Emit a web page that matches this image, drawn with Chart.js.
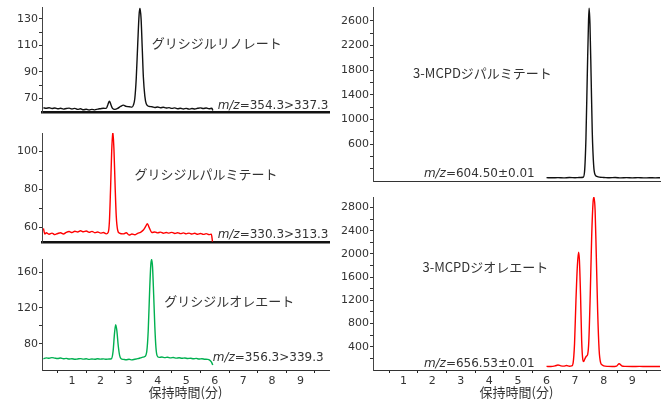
<!DOCTYPE html>
<html>
<head>
<meta charset="utf-8">
<script src="https://cdn.jsdelivr.net/npm/chart.js@4"></script>
<style>
  body { margin: 0; background: #fff; }
  #wrap { position: relative; width: 670px; height: 400px; overflow: hidden; }
  canvas { position: absolute; }
</style>
</head>
<body>
<div id="wrap">
  <canvas id="c1" width="340" height="120" style="left:0;top:0"></canvas>
  <canvas id="c2" width="340" height="130" style="left:0;top:120px"></canvas>
  <canvas id="c3" width="340" height="150" style="left:0;top:250px"></canvas>
  <canvas id="c4" width="340" height="190" style="left:330px;top:0"></canvas>
  <canvas id="c5" width="340" height="215" style="left:330px;top:185px"></canvas>
</div>
<script>
// グリシジルリノレート (m/z 354.3>337.3)
const tLin = [0, 0.1, 0.2, 0.3, 0.4, 0.5, 0.6, 0.7, 0.8, 0.9, 1.0, 1.1, 1.2, 1.3, 1.4, 1.5, 1.6, 1.7, 1.8, 1.9, 2.0, 2.1,
  2.2, 2.26, 2.31, 2.36, 2.42, 2.5, 2.6, 2.7, 2.8, 2.9, 3.0, 3.1, 3.15, 3.2, 3.25, 3.3, 3.35, 3.38, 3.42, 3.46, 3.5, 3.55, 3.6, 3.7,
  3.8, 3.9, 4.0, 4.1, 4.2, 4.3, 4.4, 4.5, 4.6, 4.7, 4.8, 4.9, 5.0, 5.1, 5.2, 5.3, 5.4, 5.5, 5.6, 5.7, 5.8, 5.9, 5.93];
const vLin = [63, 62.6, 63, 62.4, 62.8, 62.2, 62.6, 62, 62.4, 62.7, 62.1, 62.5, 61.8, 62.2, 61.5, 61.9, 61.3, 61.8, 61.4, 62, 62.3, 62.6,
  62.5, 65.5, 68, 65.5, 62.5, 61.8, 62.5, 64, 65, 64, 63.8, 63.5, 65, 70, 85, 110, 133, 138, 130, 108, 86, 72, 66, 64,
  63.8, 63.2, 63.6, 63, 63.4, 62.8, 63.1, 62.5, 62.9, 62.3, 62.6, 62.1, 62.5, 62, 62.4, 62.1, 62.6, 62.9, 62.4, 62.8, 62.3, 62.6, 61];

// グリシジルパルミテート (m/z 330.3>313.3)
const tPal = [0, 0.05, 0.1, 0.2, 0.3, 0.4, 0.5, 0.6, 0.7, 0.8, 0.9, 1.0, 1.1, 1.2, 1.3, 1.4, 1.5, 1.6, 1.7, 1.8, 1.9, 2.0, 2.1,
  2.2, 2.27, 2.31, 2.35, 2.39, 2.43, 2.47, 2.51, 2.55, 2.6, 2.66, 2.8, 2.9, 3.0, 3.1, 3.2, 3.3, 3.4, 3.5, 3.58, 3.64, 3.7, 3.8,
  3.9, 4.0, 4.1, 4.2, 4.3, 4.4, 4.5, 4.6, 4.7, 4.8, 4.9, 5.0, 5.1, 5.2, 5.3, 5.4, 5.5, 5.6, 5.7, 5.8, 5.88, 5.92];
const vPal = [59.5, 56.5, 57.2, 56.4, 57, 56.2, 56.8, 57.2, 56.5, 57.4, 57.8, 57.3, 58, 57.6, 58.2, 57.7, 58.1, 57.4, 57.9, 57.2, 57.6, 57, 57.3,
  56.6, 57.5, 63, 80, 100, 110, 101, 82, 66, 58.5, 57, 56.6, 57.2, 56, 56.5, 56.1, 56.9, 57.4, 58.6, 60.5, 62, 60, 57.3,
  57.6, 57.1, 57.5, 56.9, 57.3, 57, 57.4, 56.8, 57.2, 56.7, 57.1, 56.6, 57, 56.5, 56.9, 56.4, 56.8, 56.3, 56.7, 56.2, 56.4, 52.5];

// グリシジルオレエート (m/z 356.3>339.3)
const tOle = [0, 0.1, 0.2, 0.3, 0.4, 0.5, 0.6, 0.7, 0.8, 0.9, 1.0, 1.1, 1.2, 1.3, 1.4, 1.5, 1.6, 1.7, 1.8, 1.9, 2.0, 2.1, 2.2, 2.3,
  2.38, 2.44, 2.49, 2.53, 2.57, 2.62, 2.67, 2.72, 2.8, 2.9, 3.0, 3.1, 3.2, 3.3, 3.4, 3.48, 3.55, 3.62, 3.67, 3.72, 3.76, 3.79, 3.82, 3.86,
  3.9, 3.94, 3.98, 4.05, 4.15, 4.25, 4.35, 4.45, 4.55, 4.65, 4.75, 4.85, 4.95, 5.05, 5.15, 5.25, 5.35, 5.45, 5.55, 5.65, 5.75, 5.82, 5.88, 5.93];
const vOle = [63.5, 64.5, 64, 64.8, 64.2, 63.8, 64.3, 63.5, 63.9, 63.2, 63.6, 62.9, 63.3, 63.7, 63.1, 63.5, 62.8, 63.3, 63, 63.5, 63.1, 63.4, 62.9, 63.2,
  63.5, 72, 92, 101.5, 95, 78, 67, 63.5, 62.8, 62.4, 62.9, 62.3, 63, 63.6, 64.5, 65.3, 66, 72, 95, 140, 168, 174, 166, 135,
  100, 76, 67, 65, 65.4, 64.8, 65.2, 64.5, 64.9, 64.2, 64.6, 64, 64.4, 63.8, 64.1, 63.5, 63.9, 63.2, 63.6, 63, 62.8, 62, 60, 56.6];

// 3-MCPDジパルミテート (m/z 604.50±0.01)
const tDiPal = [6.0, 6.2, 6.4, 6.6, 6.8, 7.0, 7.1, 7.2, 7.28, 7.33, 7.38, 7.43, 7.47, 7.49, 7.52, 7.56, 7.6, 7.65, 7.7, 7.76, 7.85,
  8.0, 8.2, 8.4, 8.6, 8.8, 9.0, 9.2, 9.4, 9.6, 9.8, 9.97];
const vDiPal = [55, 52, 55, 50, 56, 53, 55, 57, 60, 150, 700, 1800, 2600, 2810, 2550, 1700, 800, 250, 100, 75, 62,
  58, 52, 56, 50, 55, 51, 54, 50, 53, 51, 52];

// 3-MCPDジオレエート (m/z 656.53±0.01)
const tDiOle = [6.0, 6.15, 6.3, 6.4, 6.5, 6.6, 6.7, 6.8, 6.88, 6.93, 6.98, 7.03, 7.08, 7.12, 7.15, 7.19, 7.23, 7.27, 7.3, 7.34, 7.4,
  7.44, 7.48, 7.53, 7.58, 7.63, 7.66, 7.7, 7.74, 7.79, 7.84, 7.89, 7.94, 8.0, 8.15, 8.3, 8.45, 8.54, 8.63, 8.75, 9.0, 9.25, 9.5, 9.75, 9.97];
const vDiOle = [62, 60, 70, 86, 72, 66, 78, 64, 70, 120, 450, 1200, 1800, 2030, 1900, 1300, 500, 180, 145, 190, 240,
  270, 500, 1300, 2300, 2900, 2980, 2750, 2000, 1000, 350, 130, 90, 70, 62, 60, 68, 108, 72, 62, 60, 62, 60, 61, 60];

// tick labels
const xLabels = [1, 2, 3, 4, 5, 6, 7, 8, 9];
const xTickMarks = [0.5, 1.5, 2.5, 3.5, 4.5, 5.5, 6.5, 7.5, 8.5, 9.5];
const yLin = [70, 90, 110, 130], yLinMinor = [80, 100, 120];
const yPal = [60, 80, 100], yPalMinor = [70, 90];
const yOle = [80, 120, 160], yOleMinor = [100, 140];
const yDiPal = [600, 1000, 1400, 1800, 2200, 2600], yDiPalMinor = [200, 400, 800, 1200, 1600, 2000, 2400];
const yDiOle = [400, 800, 1200, 1600, 2000, 2400, 2800], yDiOleMinor = [200, 600, 1000, 1400, 1800, 2200, 2600];

const textColor = "#333";
const tickFont = { family: "DejaVu Sans", size: 11 };

// compound name and m/z label drawn in data coordinates
const labelPlugin = {
  id: "peakLabels",
  afterDatasetsDraw(chart, args, opts) {
    const ctx = chart.ctx;
    const xs = chart.scales.x, ys = chart.scales.y;
    ctx.save();
    ctx.fillStyle = textColor;
    ctx.textBaseline = "middle";
    ctx.font = '13px "Noto Sans CJK JP"';
    ctx.textAlign = "center";
    ctx.fillText(opts.name, xs.getPixelForValue(opts.nameX), ys.getPixelForValue(opts.nameY));
    let px = xs.getPixelForValue(opts.mzX);
    const py = ys.getPixelForValue(opts.mzY);
    ctx.textAlign = "left";
    ctx.font = 'italic 12px "DejaVu Sans"';
    ctx.fillText("m/z", px, py);
    px += ctx.measureText("m/z").width;
    ctx.font = '12px "DejaVu Sans"';
    ctx.fillText(opts.mz, px, py);
    ctx.restore();
  },
};

function makePanel(id, p) {
  const pts = p.t.map((t, i) => ({ x: t, y: p.v[i] }));
  const yTicks = p.major.concat(p.minor).sort((a, b) => a - b);
  const xTicks = p.bottom ? xLabels.concat(xTickMarks).sort((a, b) => a - b) : [];
  return new Chart(document.getElementById(id), {
    type: "line",
    data: {
      datasets: [{
        data: pts,
        borderColor: p.color,
        borderWidth: 1.4,
        pointRadius: 0,
        cubicInterpolationMode: "monotone",
      }],
    },
    plugins: [labelPlugin],
    options: {
      responsive: false,
      animation: false,
      layout: { padding: p.pad },
      plugins: {
        legend: { display: false },
        tooltip: { enabled: false },
        peakLabels: p.labels,
      },
      scales: {
        x: {
          type: "linear",
          min: p.xmin,
          max: p.xmax,
          afterBuildTicks: (s) => { s.ticks = xTicks.map((v) => ({ value: v })); },
          afterFit: (s) => { s.height = p.bottom ? 30 : 0; },
          grid: {
            display: true,
            drawOnChartArea: false,
            drawTicks: p.bottom,
            tickLength: 3,
            color: (c) => (c.tick && xTickMarks.includes(c.tick.value) ? "#222" : "rgba(0,0,0,0)"),
          },
          border: { display: true, color: p.axisColor, width: p.axisWidth },
          ticks: {
            display: p.bottom,
            autoSkip: false,
            maxRotation: 0,
            padding: 2,
            color: textColor,
            font: tickFont,
            callback: (v) => (xLabels.includes(v) ? String(v) : ""),
          },
          title: {
            display: p.bottom,
            text: "保持時間(分)",
            color: textColor,
            font: { family: "Noto Sans CJK JP", size: 13 },
            padding: 0,
          },
        },
        y: {
          min: p.ymin,
          max: p.ymax,
          afterBuildTicks: (s) => { s.ticks = yTicks.map((v) => ({ value: v })); },
          afterFit: (s) => { s.width = p.yw; },
          grid: { drawOnChartArea: false, tickLength: 3, color: "#333" },
          border: { color: "#444", width: 1 },
          ticks: {
            autoSkip: false,
            padding: 1,
            color: textColor,
            font: tickFont,
            callback: (v) => (p.major.includes(v) ? String(v) : ""),
          },
        },
      },
    },
  });
}

makePanel("c1", {
  t: tLin, v: vLin, color: "#111", major: yLin, minor: yLinMinor, ymin: 59.5, ymax: 138.5,
  xmin: -0.05, xmax: 10, yw: 42, pad: { top: 5, right: 11, bottom: 4 }, bottom: false, axisColor: "#111", axisWidth: 2.5,
  labels: { name: "グリシジルリノレート", nameX: 6.07, nameY: 112, mz: "=354.3>337.3", mzX: 6.1, mzY: 64.3 },
});
makePanel("c2", {
  t: tPal, v: vPal, color: "#ff0000", major: yPal, minor: yPalMinor, ymin: 52.3, ymax: 109.8,
  xmin: -0.05, xmax: 10, yw: 42, pad: { top: 13, right: 11, bottom: 8 }, bottom: false, axisColor: "#111", axisWidth: 2.5,
  labels: { name: "グリシジルパルミテート", nameX: 5.69, nameY: 88.3, mz: "=330.3>313.3", mzX: 6.1, mzY: 56.3 },
});
makePanel("c3", {
  t: tOle, v: vOle, color: "#00b050", major: yOle, minor: yOleMinor, ymin: 51, ymax: 174.5,
  xmin: -0.05, xmax: 10, yw: 42, pad: { top: 9, right: 11, bottom: 0 }, bottom: true, axisColor: "#333", axisWidth: 1,
  labels: { name: "グリシジルオレエート", nameX: 6.51, nameY: 128, mz: "=356.3>339.3", mzX: 5.93, mzY: 64.3 },
});
makePanel("c4", {
  t: tDiPal, v: vDiPal, color: "#111", major: yDiPal, minor: yDiPalMinor, ymin: 0, ymax: 2815,
  xmin: -0.07, xmax: 9.97, yw: 43, pad: { top: 6, right: 10, bottom: 9 }, bottom: false, axisColor: "#333", axisWidth: 1,
  labels: { name: "3-MCPDジパルミテート", nameX: 3.76, nameY: 1745, mz: "=604.50±0.01", mzX: 1.71, mzY: 116 },
});
makePanel("c5", {
  t: tDiOle, v: vDiOle, color: "#ff0000", major: yDiOle, minor: yDiOleMinor, ymin: 0, ymax: 2980,
  xmin: -0.07, xmax: 9.97, yw: 43, pad: { top: 12, right: 10, bottom: 0 }, bottom: true, axisColor: "#333", axisWidth: 1,
  labels: { name: "3-MCPDジオレエート", nameX: 3.86, nameY: 1775, mz: "=656.53±0.01", mzX: 1.71, mzY: 108 },
});
</script>
</body>
</html>
